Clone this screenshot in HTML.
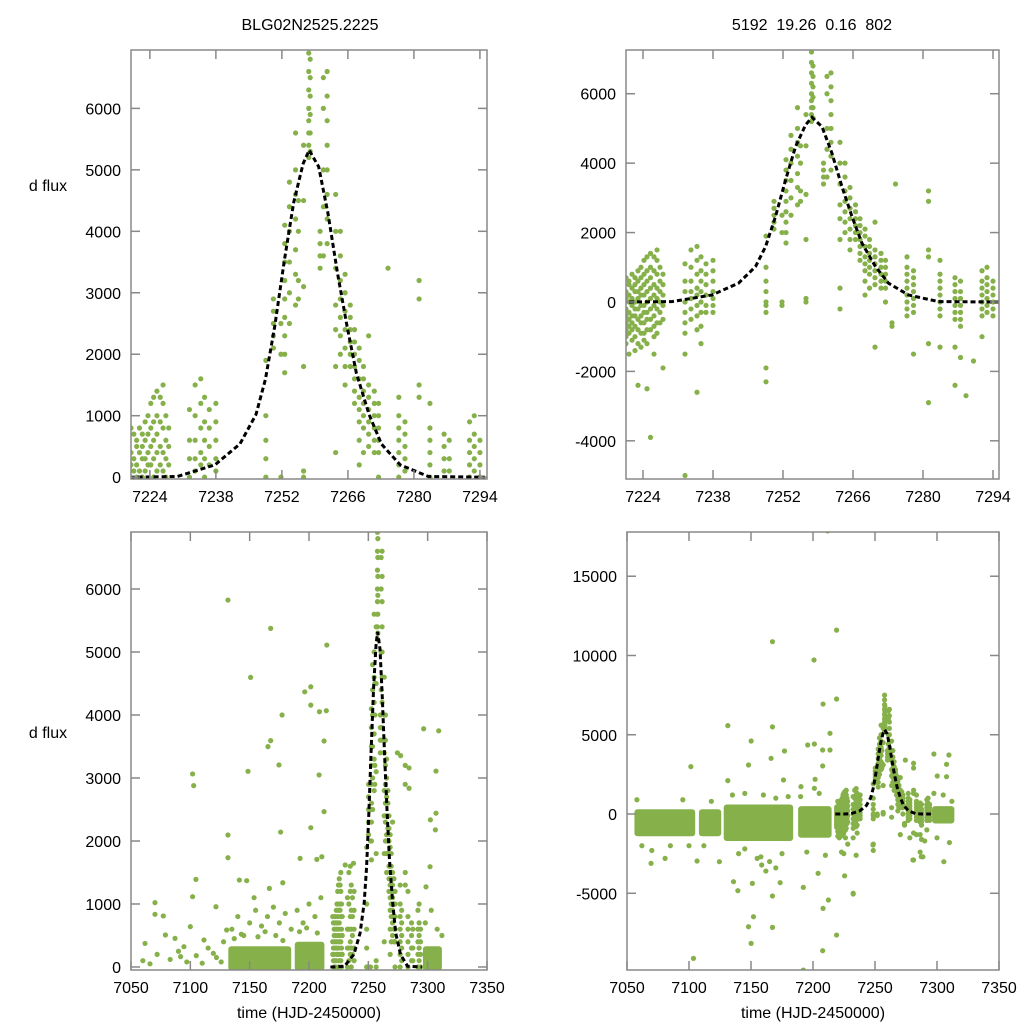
<!DOCTYPE html>
<html><head><meta charset="utf-8"><style>
html,body{margin:0;padding:0;background:#fff;width:1024px;height:1024px;overflow:hidden;}
svg{display:block;font-family:"Liberation Sans",sans-serif;}
</style></head><body>
<svg id="chart" width="1024" height="1024" viewBox="0 0 1024 1024" xmlns="http://www.w3.org/2000/svg">
<text x="310" y="30" font-size="16" text-anchor="middle">BLG02N2525.2225</text>
<text x="812" y="30" font-size="16" text-anchor="middle" xml:space="preserve">5192  19.26  0.16  802</text>
<text x="48" y="191" font-size="16" text-anchor="middle">d flux</text>
<text x="48" y="738" font-size="16" text-anchor="middle">d flux</text>
<text x="309" y="1018" font-size="16" text-anchor="middle">time (HJD-2450000)</text>
<text x="813" y="1018" font-size="16" text-anchor="middle">time (HJD-2450000)</text>
</svg>
<script>
// ---- data: nightly columns in event window ----
const colT = [7220.0,7220.6,7221.2,7221.8,7222.4,7223.0,7223.6,7224.2,7224.8,7225.5,7226.2,7226.8,7227.4,7228.0,
7232.4,7233.6,7234.8,7235.6,7236.6,7238.0,
7248.6,7250.2,7251.8,7252.6,7253.6,7254.9,7255.5,7256.6,7257.7,7258.0,7260.1,7260.8,7261.6,7263.4,7264.4,7265.4,7266.5,7267.4,7268.4,7269.3,7270.4,7271.6,7272.5,7274.5,7273.8,
7276.8,7278.1,7281.1,7283.4,7286.4,7287.5,7288.6,7290.1,7291.8,7292.8,7294.0];
const colF = [
[800,400,200,-100,-300,-500,-700,-900,-1100,-1400],
[700,300,100,-200,-400,-600,-800,-1000,-1200],
[600,500,200,0,-300,-500,-700,-900,-1500],
[800,400,100,-100,-400,-600,-800,-1100],
[700,500,300,0,-200,-400,-700,-1000,-1400],
[900,600,300,100,-200,-500,-800,-1200,-2400],
[1000,700,400,200,-100,-400,-600,-900,-1300],
[1200,800,500,200,-100,-300,-600,-900,-1100],
[1300,900,600,300,0,-300,-500,-800,-1200,-2500],
[1400,1000,700,400,100,-200,-500,-800,-3900],
[1300,900,500,200,-100,-400,-700,-1000,-1500],
[1500,1200,800,400,100,-200,-600,-900],
[1000,600,300,0,-300,-600],
[800,500,200,-100,-500,-1900],
[1100,600,300,0,-300,-600,-900,-1500,-5000],
[1500,1000,600,300,100,-200,-500],
[1600,1200,800,400,200,-100,-400,-800,-2600],
[1300,900,600,300,0,-300,-700,-1200],
[1100,800,500,200,-100,-300],
[1200,900,600,300,100,-100,-300],
[1900,1000,600,300,0,-100,-300,-1900,-2300],
[2900,2700,2500,2300,2100],
[2500,2000,0,-100],
[4100,3800,3500,3200,2900,2600,2300,2000,1700],
[4800,4400,4000,3500,3000,2500],
[5600,5000,4600,4200,3700,3300,2800],
[4500,4000,3200,2900],
[5400,4500,3100,1800,100,0],
[7500,7200,6900,6600,6300,6000,5800,5600,5400,5200],
[6800,6500,6200,5900,5600,5300],
[4000,3800,3600,3400],
[6500,6000,5000,4400,3600],
[6600,6200,5800,5400,5000,4600,4200,3800],
[4600,4000,3400,2800,2400,1800,400,-200],
[4000,3600,3200,2900,2600,2300,2000],
[3300,3000,2700,2400,2100,1800,1500],
[2800,2600,2400,2200,2000,1800],
[2400,2200,2000,1800,1600,1400,1200],
[2100,1900,1600,1300,1100,900,600,200],
[1800,1600,1400,1200,1000,800,400],
[2300,1500,1300,1100,900,700,500,-1300],
[1400,1200,1000,800,600,400],
[1200,1000,800,600,400,0],
[3400],
[-600,-700],
[1300,1000,800,600,400,200,0,-200,-400],
[900,700,500,300,100,-100,-300,-1500],
[3200,2900,1500,1300,-1200,-2900],
[1200,800,600,400,200,0,-200,-400,-1300],
[700,500,300,100,-100,-300,-500,-1300,-2400],
[600,300,100,-100,-300,-500,-700,-1600],
[-2700],
[-1700],
[900,600,400,200,0,-200,-400,-1000],
[1000,700,500,300,100,-100,-300],
[600,400,200,0,-200,-400]
];
// ---- model curve ----
const curveT = [7218,7220,7229.8,7237.8,7243.1,7246.5,7248.5,7250.5,7252.5,7254.5,7256.5,7257.8,7259.8,7261.8,7263.8,7265.8,7267.8,7270.5,7273.1,7277.1,7283.1,7295.1];
const curveF = [0,0,10,200,540,1020,1590,2460,3510,4470,5100,5320,5050,4280,3320,2460,1690,1020,540,200,10,0];
// ---- right (full range) dense season bands ----
const bandRT0 = [7056,7108,7128,7188,7217,7296];
const bandRT1 = [7105,7126,7184,7215,7220,7314];
const bandRLo = [-1400,-1400,-1700,-1500,-1000,-600];
const bandRHi = [300,300,600,500,600,500];
// ---- right outliers ----
const outRT = [7211.8,7219,7167.3,7200.8,7208.1,7219,7131.3,7167.3,7150.1,7213.7,7195.7,7201.1,7207.8,7213.7,7166.2,7148,7177,7101.5,7131.3,7176.2,7201.7,7207.8,7190.3,7201.1,
7103.6,7148,7152,7150.1,7167.3,7192.2,7207.8,7219,7208.1,7212.4,7167.3,7139.4,7192.2,7232.4,7135.9,7173.5,7151.1,7158.6,7069.4,7080.7,7106.5,7124.5,7204.1,7248.4,7280.6,7287.3,7305.5,
7297.5,7309.6,7307.7,7307.7,7297.5,7300.2,
7058,7062,7070,7085,7095,7100,7112,7118,7135,7140,7145,7155,7160,7165,7170,7175,7180,7190,7195,7205,7210,7300,7305,7312,7310,7162,7170,7158,7145];
const outRF = [17857,11600,10872,9716,6937,7255,5574,5497,4606,5092,4354,4417,4038,4038,3512,3091,3975,2989,2105,2147,2189,3031,1726,1621,
-9109,-7110,-6479,-8162,-7152,-9844,-8624,-7635,-5952,-5426,-5173,-4836,-4626,-5047,-4268,-4331,-4374,-3217,-3112,-2797,-2966,-3008,-3743,-1955,-2902,-2692,-3008,
3786,3723,3134,2355,1303,2397,
900,-2000,-2300,-2000,900,-2000,-2000,800,1200,-2500,1300,-2800,1200,-3000,1000,-2500,1100,1100,-2400,1300,-2600,-1500,1200,800,-1800,-3600,-3400,-2700,-2200];
// ---- left (full range) bands ----
const bandLT0 = [7132,7188,7296];
const bandLT1 = [7185,7213,7312];
const bandLLo = [-60,-60,-60];
const bandLHi = [330,400,330];
// ---- left outliers ----
const outLT = [7131.7,7167.7,7215,7150.8,7196.4,7201.5,7201.5,7208.8,7214.6,7177.3,7167.7,7165.4,7174.7,7148.6,7101.9,7102.8,7208.5,7212.7,7212.7,7131.7,7176.1,7201.5,7131.7,7104.7,7101.9,
7296.6,7309.3,7307,7307,7302.3,7306.5,7284.3,7284.3,7277.2,
7070.2,7070.2,7077.2,7061.8,7087.1,7121.6,7141.3,7147.5,7153.7,7166.6,7177.9,7192.5,7206.6,7210.8,7230.5,7237.5,7302,7298.6,
7100,7094.6,7111.5,7091.8,7079,7119.4,7130.6,
7060,7066,7072,7083,7090,7097,7105,7110,7115,7122,7126,7128,
7135,7140,7145,7150,7155,7160,7165,7170,7175,7180,7185,7190,7195,7200,7205,7210,7298,7303,7308,7312,7137,7143,7157,7163,7172,7178,7192,7198,7207];
const outLF = [5824,5375,5110,4597,4368,4448,4157,4052,4068,4000,3593,3498,3207,3106,3064,2879,3048,3587,2466,2095,2142,2211,1735,1391,1116,
3782,3749,3110,2441,2336,2177,3160,2837,3355,
1021,836,810,374,454,956,1380,1370,1100,1248,1337,1724,1708,1750,1619,1646,1592,1272,
640,322,428,164,508,217,587,
100,50,200,120,250,80,180,60,300,150,80,400,
600,800,500,700,900,650,800,950,700,850,600,900,700,1000,800,1100,700,900,600,500,450,520,480,560,500,420,560,620,540];

// ---- tick labels ----
const xTicksTop = [7224,7238,7252,7266,7280,7294];
const xTicksBot = [7050,7100,7150,7200,7250,7300,7350];
const yTicksTL = [0,1000,2000,3000,4000,5000,6000];
const yTicksTR = [-4000,-2000,0,2000,4000,6000];
const yTicksBL = [0,1000,2000,3000,4000,5000,6000];
const yTicksBR = [-5000,0,5000,10000,15000];

const svg = document.getElementById('chart');
const NS = 'http://www.w3.org/2000/svg';
const GREEN = '#86b04a';
function mk(tag, attrs, parent){
  const e = document.createElementNS(NS, tag);
  for (const k in attrs) e.setAttribute(k, attrs[k]);
  (parent||svg).appendChild(e);
  return e;
}
function drawPanel(id, p){
  const sx = t => p.x0 + (t - p.t0) / (p.t1 - p.t0) * (p.x1 - p.x0);
  const sy = f => p.y1 - (f - p.f0) / (p.f1 - p.f0) * (p.y1 - p.y0);
  const g = mk('g', {});
  
  
  const cp = mk('clipPath', {id: 'clip-' + id}, g);
  mk('rect', {x: p.x0, y: p.y0, width: p.x1 - p.x0, height: p.y1 - p.y0}, cp);
  const data = mk('g', {'clip-path': 'url(#clip-' + id + ')'}, g);
  
  
  if (p.bands) {
    const b = p.bands;
    for (let i = 0; i < b.t0.length; i++) {
      const r = mk('rect', {x: sx(b.t0[i]), y: sy(b.hi[i]), width: sx(b.t1[i]) - sx(b.t0[i]), height: sy(b.lo[i]) - sy(b.hi[i]), rx: 3, fill: GREEN}, data);
      
      
    }
  }
  for (let i = 0; i < colT.length; i++) {
    for (let j = 0; j < colF[i].length; j++) {
      const c = mk('circle', {cx: sx(colT[i]), cy: sy(colF[i][j]), r: 2.6, fill: GREEN}, data);
      
      
    }
  }
  if (p.outT) {
    for (let i = 0; i < p.outT.length; i++) {
      const c = mk('circle', {cx: sx(p.outT[i]), cy: sy(p.outF[i]), r: 2.6, fill: GREEN}, data);
      
      
    }
  }
  let d = '';
  for (let i = 0; i < curveT.length; i++) d += (i ? 'L' : 'M') + sx(curveT[i]).toFixed(1) + ',' + sy(curveF[i]).toFixed(1);
  const path = mk('path', {d: d, fill: 'none', stroke: '#000', 'stroke-width': 3, 'stroke-dasharray': '5,3'}, data);
  
  
  const fr = mk('rect', {x: p.x0, y: p.y0, width: p.x1 - p.x0, height: p.y1 - p.y0, fill: 'none', stroke: '#888', 'stroke-width': 1.5}, g);
  
  
  p.xt.forEach(v => {
    const x = sx(v);
    mk('line', {x1: x, x2: x, y1: p.y1, y2: p.y1 - 9, stroke: '#888', 'stroke-width': 1.5}, g);
    mk('line', {x1: x, x2: x, y1: p.y0, y2: p.y0 + 9, stroke: '#888', 'stroke-width': 1.5}, g);
    const t = mk('text', {x: x, y: p.y1 + 23, 'font-size': 16, 'text-anchor': 'middle'}, g);
    t.textContent = v;
    
    
  });
  p.yt.forEach(v => {
    const y = sy(v);
    mk('line', {x1: p.x0, x2: p.x0 + 9, y1: y, y2: y, stroke: '#888', 'stroke-width': 1.5}, g);
    mk('line', {x1: p.x1, x2: p.x1 - 9, y1: y, y2: y, stroke: '#888', 'stroke-width': 1.5}, g);
    const t = mk('text', {x: p.x0 - 10, y: y + 6, 'font-size': 16, 'text-anchor': 'end'}, g);
    t.textContent = v;
    
    
  });
}
drawPanel('top-left', {x0:131,x1:487,y0:50,y1:479,t0:7220,t1:7295.5,f0:-30,f1:6950,xt:xTicksTop,yt:yTicksTL});
drawPanel('top-right', {x0:626,x1:999,y0:50,y1:479,t0:7220.6,t1:7295.2,f0:-5100,f1:7260,xt:xTicksTop,yt:yTicksTR});
drawPanel('bottom-left', {x0:131,x1:487,y0:532,y1:970,t0:7050,t1:7350,f0:-48,f1:6905,xt:xTicksBot,yt:yTicksBL,
  bands:{t0:bandLT0,t1:bandLT1,lo:bandLLo,hi:bandLHi}, outT:outLT, outF:outLF});
drawPanel('bottom-right', {x0:627,x1:999,y0:532,y1:970,t0:7050,t1:7350,f0:-9840,f1:17790,xt:xTicksBot,yt:yTicksBR,
  bands:{t0:bandRT0,t1:bandRT1,lo:bandRLo,hi:bandRHi}, outT:outRT, outF:outRF});
</script>
</body></html>
